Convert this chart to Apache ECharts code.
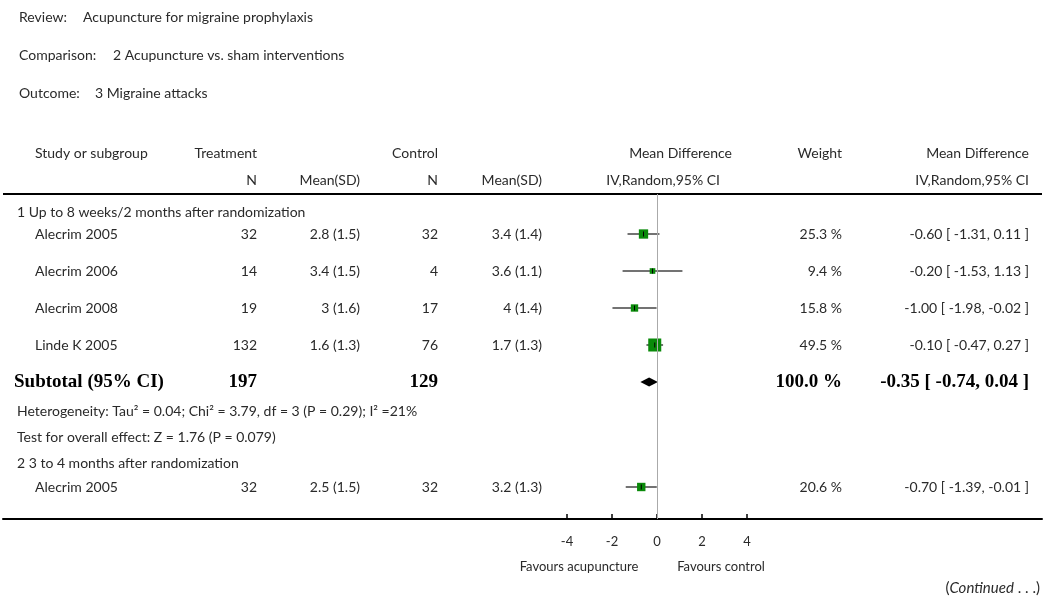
<!DOCTYPE html>
<html><head><meta charset="utf-8">
<script src="https://cdn.jsdelivr.net/npm/echarts@6/dist/echarts.min.js"></script>
<style>html,body{margin:0;padding:0;background:#fff}#c{width:1050px;height:603px}</style>
</head><body><div id="c"></div>
<script>
// ---- data ----
const studies = ['Alecrim 2005', 'Alecrim 2006', 'Alecrim 2008', 'Linde K 2005', 'Alecrim 2005'];
const studyGroup = [1, 1, 1, 1, 2];
const treatN = [32, 14, 19, 132, 32];
const treatMean = [2.8, 3.4, 3, 1.6, 2.5];
const treatSD = [1.5, 1.5, 1.6, 1.3, 1.5];
const ctrlN = [32, 4, 17, 76, 32];
const ctrlMean = [3.4, 3.6, 4, 1.7, 3.2];
const ctrlSD = [1.4, 1.1, 1.4, 1.3, 1.3];
const md = [-0.60, -0.20, -1.00, -0.10, -0.70];
const ciLow = [-1.31, -1.53, -1.98, -0.47, -1.39];
const ciHigh = [0.11, 1.13, -0.02, 0.27, -0.01];
const weight = [25.3, 9.4, 15.8, 49.5, 20.6];
const subtotalN = [197, 129];
const subtotalMD = [-0.35, -0.74, 0.04];
const subtotalWeight = 100.0;
const groupLabels = ['1 Up to 8 weeks/2 months after randomization', '2 3 to 4 months after randomization'];
const heterogeneity = 'Heterogeneity: Tau² = 0.04; Chi² = 3.79, df = 3 (P = 0.29); I² =21%';
const overallTest = 'Test for overall effect: Z = 1.76 (P = 0.079)';
const tickValues = [-4, -2, 0, 2, 4];
const favours = ['Favours acupuncture', 'Favours control'];

// ---- layout (pixel offsets below the header rule) ----
const gridTop = 194, gridBottomY = 519;
const studyRowPos = [40, 77, 114, 151, 293];
const subtotalPos = 188;
const groupPos = [18, 269];
const hetPos = 217, testPos = 243;

const FONT = 'Lato, "Open Sans", sans-serif';
const TXT = '#2a2a2a';
const pxPerUnit = 22.5, zeroX = 657, gl = 3, gr = 1042;

const chart = echarts.init(document.getElementById('c'));

const studyData = md.map((m, i) => [m, ciLow[i], ciHigh[i], weight[i], studyRowPos[i]]);

chart.setOption({
  animation: false,
  grid: { left: gl, right: 1050 - gr, top: gridTop, bottom: 603 - gridBottomY },
  xAxis: {
    type: 'value', position: 'bottom',
    min: (gl - zeroX) / pxPerUnit, max: (gr - zeroX) / pxPerUnit,
    axisLine: { show: true, onZero: false, lineStyle: { color: '#000', width: 2 } },
    axisTick: { show: true, inside: true, length: 5, customValues: tickValues, lineStyle: { color: '#000', width: 1.5 } },
    axisLabel: { customValues: tickValues, margin: 16, fontFamily: FONT, fontSize: 13, color: TXT },
    splitLine: { show: false }
  },
  yAxis: {
    type: 'value', inverse: true, min: 0, max: gridBottomY - gridTop,
    show: false, splitLine: { show: false }
  },
  series: [
    {
      type: 'custom',
      data: studyData,
      encode: { x: [0, 1, 2], y: 4 },
      markLine: {
        silent: true, symbol: 'none', label: { show: false },
        lineStyle: { color: '#aaa', width: 1, type: 'solid' },
        data: [{ xAxis: 0 }]
      },
      renderItem: function (params, api) {
        const y = api.coord([0, api.value(4)])[1];
        const xm = api.coord([api.value(0), 0])[0];
        const xl = api.coord([api.value(1), 0])[0];
        const xh = api.coord([api.value(2), 0])[0];
        const s = 1.85 * Math.sqrt(api.value(3));
        return {
          type: 'group',
          children: [
            { type: 'line', shape: { x1: xl, y1: y, x2: xh, y2: y }, style: { stroke: '#444', lineWidth: 1.5 } },
            { type: 'rect', shape: { x: xm - s / 2, y: y - s / 2, width: s, height: s }, style: { fill: '#0a8a0a' } },
            { type: 'line', shape: { x1: xm, y1: y - 2.5, x2: xm, y2: y + 2.5 }, style: { stroke: '#000', lineWidth: 1 } }
          ]
        };
      }
    },
    {
      type: 'custom',
      data: [[subtotalMD[0], subtotalMD[1], subtotalMD[2], subtotalPos]],
      encode: { x: [0, 1, 2], y: 3 },
      renderItem: function (params, api) {
        const y = api.coord([0, api.value(3)])[1];
        const xm = api.coord([api.value(0), 0])[0];
        const xl = api.coord([api.value(1), 0])[0];
        const xh = api.coord([api.value(2), 0])[0];
        return { type: 'polygon', shape: { points: [[xl, y], [xm, y - 4.5], [xh, y], [xm, y + 4.5]] }, style: { fill: '#000' } };
      }
    }
  ]
});

// ---- text table ----
function rowY(pos) { return chart.convertToPixel({ gridIndex: 0 }, [0, pos])[1]; }
function t(text, x, y, align, extra) {
  return Object.assign({ type: 'text', x: x, y: y, silent: true,
    style: Object.assign({ text: text, fill: TXT, font: '14px ' + FONT, align: align || 'left', verticalAlign: 'middle' }, extra || {}) });
}
const BOLD = { font: 'bold 19px "Liberation Serif", "DejaVu Serif", serif', fill: '#000' };
const els = [];
// title block
els.push(t('Review:', 19, 17), t('Acupuncture for migraine prophylaxis', 83, 17));
els.push(t('Comparison:', 19, 55), t('2 Acupuncture vs. sham interventions', 113, 55));
els.push(t('Outcome:', 19, 93), t('3 Migraine attacks', 95, 93));
// headers
els.push(t('Study or subgroup', 35, 153), t('Treatment', 257, 153, 'right'), t('Control', 438, 153, 'right'),
  t('Mean Difference', 732, 153, 'right'), t('Weight', 842, 153, 'right'), t('Mean Difference', 1029, 153, 'right'));
els.push(t('N', 257, 180, 'right'), t('Mean(SD)', 360, 180, 'right'), t('N', 438, 180, 'right'), t('Mean(SD)', 542, 180, 'right'),
  t('IV,Random,95% CI', 720, 180, 'right'), t('IV,Random,95% CI', 1029, 180, 'right'));
els.push({ type: 'line', silent: true, shape: { x1: gl, y1: gridTop, x2: gr, y2: gridTop }, style: { stroke: '#000', lineWidth: 2 } });
// groups
groupLabels.forEach((g, i) => els.push(t(g, 17, rowY(groupPos[i]))));
// studies
function fmt2(v) { return v.toFixed(2); }
studies.forEach((s, i) => {
  const y = rowY(studyRowPos[i]);
  els.push(t(s, 35, y),
    t(String(treatN[i]), 257, y, 'right'),
    t(treatMean[i] + ' (' + treatSD[i] + ')', 360, y, 'right'),
    t(String(ctrlN[i]), 438, y, 'right'),
    t(ctrlMean[i] + ' (' + ctrlSD[i] + ')', 542, y, 'right'),
    t(weight[i].toFixed(1) + ' %', 842, y, 'right'),
    t(fmt2(md[i]) + ' [ ' + fmt2(ciLow[i]) + ', ' + fmt2(ciHigh[i]) + ' ]', 1029, y, 'right'));
});
// subtotal
const ys = rowY(subtotalPos);
els.push(t('Subtotal (95% CI)', 14, ys, 'left', BOLD),
  t(String(subtotalN[0]), 257, ys, 'right', BOLD),
  t(String(subtotalN[1]), 438, ys, 'right', BOLD),
  t(subtotalWeight.toFixed(1) + ' %', 842, ys, 'right', BOLD),
  t(fmt2(subtotalMD[0]) + ' [ ' + fmt2(subtotalMD[1]) + ', ' + fmt2(subtotalMD[2]) + ' ]', 1029, ys, 'right', BOLD));
els.push(t(heterogeneity, 17, rowY(hetPos)), t(overallTest, 17, rowY(testPos)));
// favours
els.push(t(favours[0], 579, 567, 'center', { font: '13px ' + FONT }), t(favours[1], 721, 567, 'center', { font: '13px ' + FONT }));
// continued
els.push({ type: 'text', silent: true, x: 1040, y: 588,
  style: { text: '({i|Continued} . . .)', fill: TXT, font: '15px ' + FONT, align: 'right', verticalAlign: 'middle',
    rich: { i: { fontStyle: 'italic', fontSize: 15, fontFamily: 'Lato, sans-serif', fill: TXT } } } });

chart.setOption({ graphic: { elements: els } });
</script>
</body></html>
